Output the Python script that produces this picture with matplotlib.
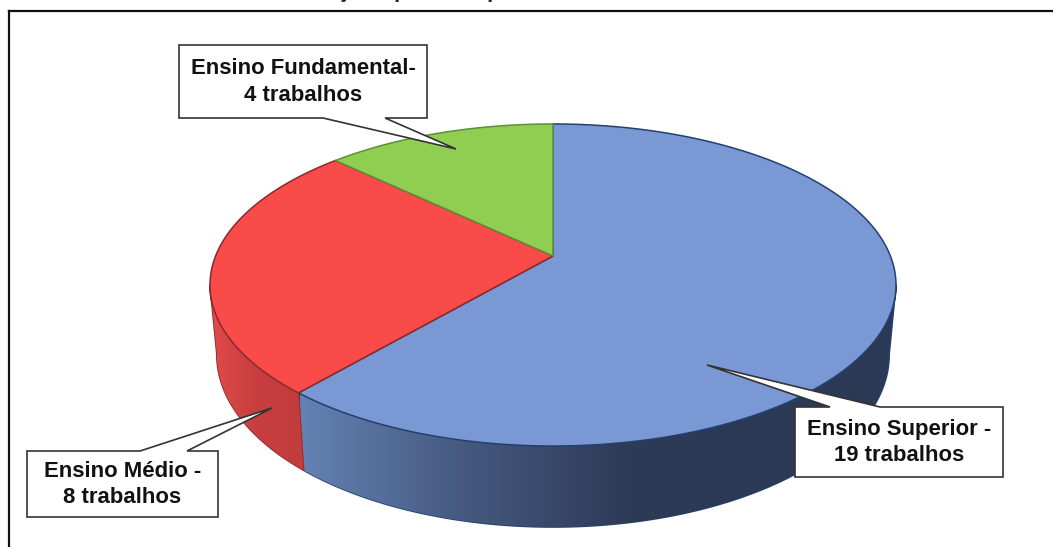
import matplotlib
matplotlib.use("Agg")
import matplotlib.pyplot as plt
import numpy as np
from matplotlib.colors import LinearSegmentedColormap
from matplotlib.patches import Polygon

plt.rcParams["font.family"] = ["Liberation Sans", "DejaVu Sans"]

# pie data, clockwise from 12 o'clock
categories = ["Ensino Superior", "Ensino Médio", "Ensino Fundamental"]
trabalhos = [19, 8, 4]
top_colors = ["#7A98D4", "#FA4B4B", "#8FCE50"]
edge_colors = ["#24406F", "#8A2A2A", "#5F8F3A"]
side_colors = [["#6482B4", "#45597F", "#2E3B57", "#2C3955"], ["#E24A4A", "#C83E3E", "#C23C3C"]]

# only the bottom of the cut off title line is visible
title_bits = ["ç", "p", "p"]
title_bits_x = [343, 400, 493]

# perspective of the pie in pixels
CX, CY = 553, 256
A, B, K = 337.4, 155.8, -0.18
DEPTH_BOTTOM = 527
FRONT_Y = 446


def project(theta):
    x = np.sin(theta)
    y = -np.cos(theta)
    d = 1 + K * y
    return CX + A * x / d, CY + B * y / d


def drop(px, py):
    # same rim on the underside of the pie
    return CX + (px - CX) * 0.98, DEPTH_BOTTOM - (FRONT_Y - py) * 1.07


def callout(ax, box, tail, lines):
    x0, y0, x1, y1 = box
    t0, tip, t1 = tail
    # go round the box and leave the top or bottom edge for the tail
    if tip[1] < y0:
        pts = [(x0, y0), t0, tip, t1, (x1, y0), (x1, y1), (x0, y1)]
    else:
        pts = [(x0, y0), (x1, y0), (x1, y1), t1, tip, t0, (x0, y1)]
    ax.add_patch(Polygon(pts, closed=True, fc="white", ec="#333333", lw=1.2, zorder=5, joinstyle="miter"))
    ax.text((x0 + x1) / 2, (y0 + y1) / 2 + 0.5, lines, ha="center", va="center", fontsize=15.9,
            fontweight="bold", color="#111111", linespacing=1.36, zorder=6)


fig = plt.figure(figsize=(10.53, 5.47), dpi=100)
ax = fig.add_axes([0, 0, 1, 1])
ax.set_xlim(0, 1053)
ax.set_ylim(547, 0)
ax.axis("off")

# frame, only top and left are in the picture
ax.plot([9, 1053], [11, 11], color="#111111", lw=1.6, zorder=1)
ax.plot([9, 9], [11, 547], color="#111111", lw=1.6, zorder=1)

for bit, bx in zip(title_bits, title_bits_x):
    ax.text(bx, -3.5, bit, ha="center", va="baseline", fontsize=15, fontweight="bold",
            family=["Open Sans", "DejaVu Sans"], color="#222222", clip_on=False)

fractions = np.cumsum([0] + trabalhos) / sum(trabalhos)
angles = fractions * 2 * np.pi

# the rim is only seen between the two outermost points of the ellipse
all_th = np.linspace(0, 2 * np.pi, 1441)
all_x = project(all_th)[0]
th_right = all_th[np.argmax(all_x)]
th_left = all_th[np.argmin(all_x)]
visible = [(th_right, angles[1]), (angles[1], th_left)]

# sides first, the top faces go over them
for i in range(2):
    th = np.linspace(visible[i][0], visible[i][1], 200)
    px, py = project(th)
    bx, by = drop(px, py)
    side = Polygon(np.column_stack([np.r_[px, bx[::-1]], np.r_[py, by[::-1]]]), closed=True,
                   fc="none", ec=edge_colors[i], lw=1.2, zorder=2)
    ax.add_patch(side)
    cmap = LinearSegmentedColormap.from_list("side", side_colors[i])
    x_left, x_right = (300, 790) if i == 0 else (210, 304)
    grad = np.linspace(0, 1, 256).reshape(1, -1)
    if i == 0:
        # flat dark colour past the end of the ramp
        ax.add_patch(Polygon(side.get_xy(), closed=True, fc=side_colors[0][-1], ec="none", zorder=1.9))
    im = ax.imshow(grad, extent=[x_left, x_right, 547, 100], aspect="auto", cmap=cmap, zorder=2)
    im.set_clip_path(side)

ax.set_xlim(0, 1053)
ax.set_ylim(547, 0)

for i in range(3):
    th = np.linspace(angles[i], angles[i + 1], 200)
    px, py = project(th)
    ax.add_patch(Polygon(np.column_stack([np.r_[CX, px], np.r_[CY, py]]), closed=True,
                         fc=top_colors[i], ec=edge_colors[i], lw=1.1, zorder=3))

callout(ax, (179, 45, 427, 118), ((323, 118), (456, 149), (385, 118)), "Ensino Fundamental-\n4 trabalhos")
callout(ax, (27, 451, 218, 517), ((140, 451), (272, 408), (187, 451)), "Ensino Médio -\n8 trabalhos")
callout(ax, (795, 407, 1003, 477), ((830, 407), (707, 365), (880, 407)), "Ensino Superior -\n19 trabalhos")

fig.savefig("out.png", dpi=100)
